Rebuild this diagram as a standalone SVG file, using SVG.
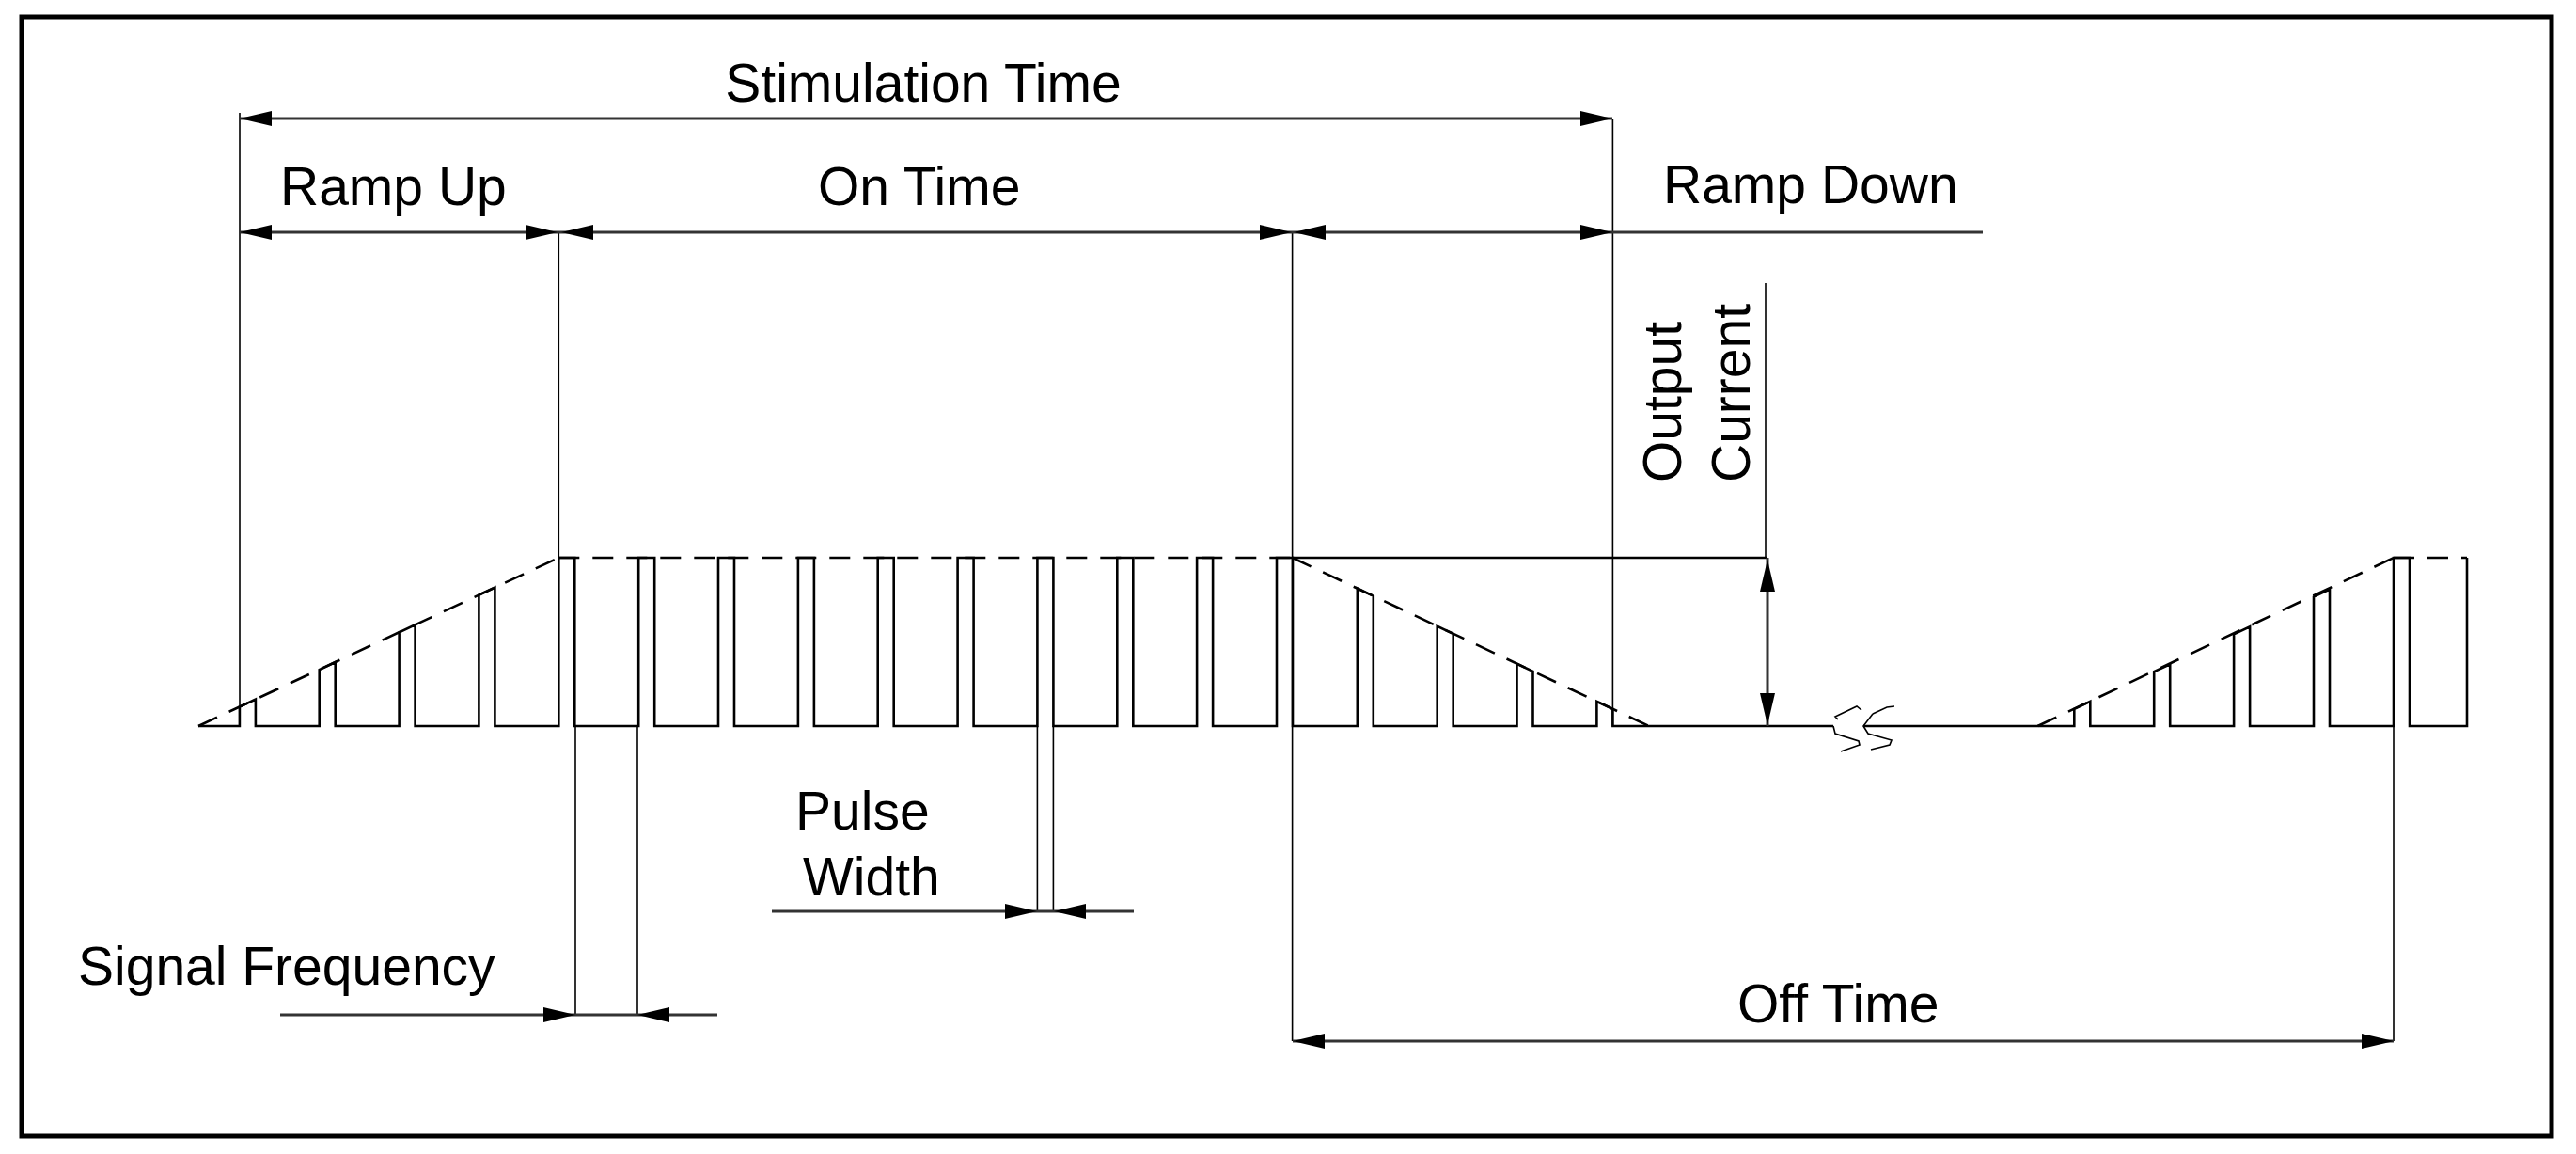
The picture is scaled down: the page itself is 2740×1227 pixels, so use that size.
<svg xmlns="http://www.w3.org/2000/svg" xmlns:xlink="http://www.w3.org/1999/xlink" width="2740" height="1227" viewBox="0 0 2740 1227">
<style>
.t{font-family:"Liberation Sans",Arial,sans-serif;font-size:57px;fill:#000}
.dim{stroke:#333;stroke-width:3;fill:none}
.ext{stroke:#000;stroke-width:1.6;fill:none}
.wave{stroke:#000;stroke-width:2.6;fill:none;stroke-linejoin:miter}
.dash{stroke:#000;stroke-width:2.6;fill:none;stroke-dasharray:22 14}
</style>
<defs>
<path id="a" d="M0,0 L-34,-8 L-34,8 Z" fill="#000"/>
</defs>
<rect id="frame" x="23" y="18" width="2691" height="1190" fill="#fff" stroke="#000" stroke-width="5"/>
<g id="waveform">
<path class="wave" d="M211,772 H254.9 V751.5 L271.9,743.6 V772 H339.7 V712 L356.7,704 V772 H424.6 V672.3 L441.6,664.3 V772 H509.4 V632.6 L526.4,624.6 V772 H594.3 V593 H611.3 V772 H679.2 V593 H696.2 V772 H764 V593 H781 V772 H848.9 V593 H865.9 V772 H933.7 V593 H950.7 V772 H1018.6 V593 H1035.6 V772 H1103.4 V593 H1120.4 V772 H1188.3 V593 H1205.3 V772 H1273.1 V593 H1290.1 V772 H1358 V593 H1375 V772 H1443.8 V625.6 L1460.8,633.7 V772 H1528.7 V665.7 L1545.7,673.7 V772 H1613.5 V705.7 L1630.5,713.7 V772 H1698.4 V745.8 L1715.4,753.8 V772 H1950 M1982,772 H2206.3 V753.8 L2223.3,745.8 V772 H2291.2 V714.1 L2308.2,706.2 V772 H2376.1 V674.3 L2393.1,666.4 V772 H2461 V634.6 L2478,626.6 V772 H2546 V593 H2563 V772 H2624 V593"/>
<path class="dash" d="M211,772 L594.3,593 M594.3,593 H1374.6 M1374.6,593 L1754,772 M2167.4,772 L2546,593 M2546,593 H2624"/>
<path class="ext" d="M1955,765 L1952,762 L1975,751 L1980,755 M1950,772 L1952,780 L1977,788 L1978,792 L1958,799 M1992,759 L1982,772 L1987,780 L2012,787 L2010,792 L1990,797 M1992,759 L2007,752 L2015,751"/>
</g>
<g id="connectors">
<path class="ext" d="M255,120 V772 M594.3,247 V593 M1715.4,126 V772 M1374.6,247 V1107 M1878,301 V593 M2546,772 V1107 M612,772 V1079 M678,772 V1079 M1103.4,772 V969 M1120.4,772 V969"/>
<path class="wave" d="M1375,593 H1880"/>
<path class="dim" d="M255,126 H1715 M255,247 H2109 M1880,593 V772 M298,1079 H763 M821,969 H1206 M1375,1107 H2546"/>
<use href="#a" transform="translate(255,126) rotate(180)"/>
<use href="#a" transform="translate(1715,126)"/>
<use href="#a" transform="translate(255,247) rotate(180)"/>
<use href="#a" transform="translate(593,247)"/>
<use href="#a" transform="translate(597,247) rotate(180)"/>
<use href="#a" transform="translate(1374,247)"/>
<use href="#a" transform="translate(1376,247) rotate(180)"/>
<use href="#a" transform="translate(1715,247)"/>
<use href="#a" transform="translate(1880,595) rotate(-90)"/>
<use href="#a" transform="translate(1880,771) rotate(90)"/>
<use href="#a" transform="translate(612,1079)"/>
<use href="#a" transform="translate(678,1079) rotate(180)"/>
<use href="#a" transform="translate(1103,969)"/>
<use href="#a" transform="translate(1121,969) rotate(180)"/>
<use href="#a" transform="translate(1375,1107) rotate(180)"/>
<use href="#a" transform="translate(2546,1107)"/>
</g>
<g id="labels">
<text class="t" x="982" y="108" text-anchor="middle">Stimulation Time</text>
<text class="t" x="298" y="218">Ramp Up</text>
<text class="t" x="870" y="218">On Time</text>
<text class="t" x="1769" y="216">Ramp Down</text>
<text class="t" transform="translate(1788,513) rotate(-90)">Output</text>
<text class="t" transform="translate(1861,513) rotate(-90)">Current</text>
<text class="t" x="846" y="882">Pulse</text>
<text class="t" x="854" y="952">Width</text>
<text class="t" x="83" y="1047">Signal Frequency</text>
<text class="t" x="1848" y="1087">Off Time</text>
</g>
</svg>
